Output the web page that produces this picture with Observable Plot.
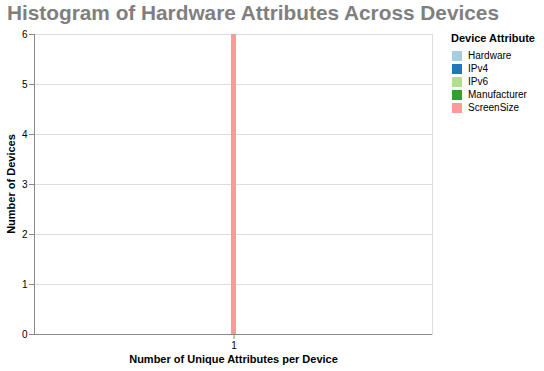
<!DOCTYPE html>
<html>
<head>
<meta charset="utf-8">
<script src="https://cdn.jsdelivr.net/npm/d3@7"></script>
<script src="https://cdn.jsdelivr.net/npm/@observablehq/plot@0.6"></script>
<style>
  html, body { margin: 0; padding: 0; background: #fff; }
  #wrap { position: relative; width: 544px; height: 371px; font-family: "Liberation Sans", Arial, sans-serif; }
  #wrap svg { position: absolute; left: 0; top: 0; }
  .title { position: absolute; left: 7px; top: 1px; font-family: "Liberation Sans", Arial, sans-serif; font-weight: bold; font-size: 20.8px; line-height: 24px; color: #7f7f7f; white-space: nowrap; }
  .xtitle { position: absolute; left: 34px; width: 399px; top: 353px; text-align: center; font-weight: bold; font-size: 11px; white-space: nowrap; }
  .ytitle { position: absolute; left: 11px; top: 184px; transform: translate(-50%, -50%) rotate(-90deg); font-weight: bold; font-size: 11px; white-space: nowrap; }
  .legend { position: absolute; left: 451px; top: 32px; font-size: 10px; }
  .legend .lt { font-weight: bold; font-size: 11px; margin-bottom: 5px; }
  .legend .it { display: flex; align-items: center; height: 13px; }
  .legend .sw { width: 10px; height: 10px; margin-right: 6px; margin-left: 1px; }
</style>
</head>
<body>
<div id="wrap"></div>
<script>
const titleText = "Histogram of Hardware Attributes Across Devices";
const xTitle = "Number of Unique Attributes per Device";
const yTitle = "Number of Devices";
const legendTitle = "Device Attribute";
const attributes = ["Hardware", "IPv4", "IPv6", "Manufacturer", "ScreenSize"];
const attributeColors = ["#a6cee3", "#1f78b4", "#b2df8a", "#33a02c", "#fb9a99"];
const uniqueAttributes = ["1", "1", "1", "1", "1"];
const deviceCounts = [6, 6, 6, 6, 6];
const yTicks = [0, 1, 2, 3, 4, 5, 6];

const data = attributes.map((a, i) => ({attribute: a, unique: uniqueAttributes[i], count: deviceCounts[i]}));

const chart = Plot.plot({
  width: 544,
  height: 371,
  marginLeft: 34,
  marginRight: 112,
  marginTop: 34,
  marginBottom: 37,
  style: {fontFamily: "'Liberation Sans', Arial, sans-serif", fontSize: "10px", color: "#000", background: "transparent"},
  x: {type: "band", domain: ["1"], paddingInner: 0, paddingOuter: 32.75, label: null},
  y: {domain: [0, 6], label: null},
  color: {domain: attributes, range: attributeColors},
  marks: [
    Plot.gridY(yTicks, {stroke: "#ddd", strokeOpacity: 1}),
    Plot.frame({stroke: "#ddd"}),
    Plot.barY(data, {x: "unique", y1: 0, y2: "count", fill: "attribute"}),
    Plot.axisY(yTicks, {tickSize: 5, tickPadding: 2, tickFormat: "d", label: null, stroke: "#888", fill: "#000"}),
    Plot.axisX({tickSize: 5, tickPadding: 2, label: null, stroke: "#888", fill: "#000"}),
    Plot.frame({anchor: "left", stroke: "#888"}),
    Plot.ruleY([0], {stroke: "#888"})
  ]
});

const wrap = document.getElementById("wrap");
wrap.appendChild(chart);

const t = document.createElement("div"); t.className = "title"; t.textContent = titleText; wrap.appendChild(t);
const xt = document.createElement("div"); xt.className = "xtitle"; xt.textContent = xTitle; wrap.appendChild(xt);
const yt = document.createElement("div"); yt.className = "ytitle"; yt.textContent = yTitle; wrap.appendChild(yt);

const lg = document.createElement("div"); lg.className = "legend";
const lt = document.createElement("div"); lt.className = "lt"; lt.textContent = legendTitle; lg.appendChild(lt);
attributes.forEach((a, i) => {
  const it = document.createElement("div"); it.className = "it";
  const sw = document.createElement("div"); sw.className = "sw"; sw.style.background = attributeColors[i];
  const lb = document.createElement("span"); lb.textContent = a;
  it.appendChild(sw); it.appendChild(lb); lg.appendChild(it);
});
wrap.appendChild(lg);
</script>
</body>
</html>
